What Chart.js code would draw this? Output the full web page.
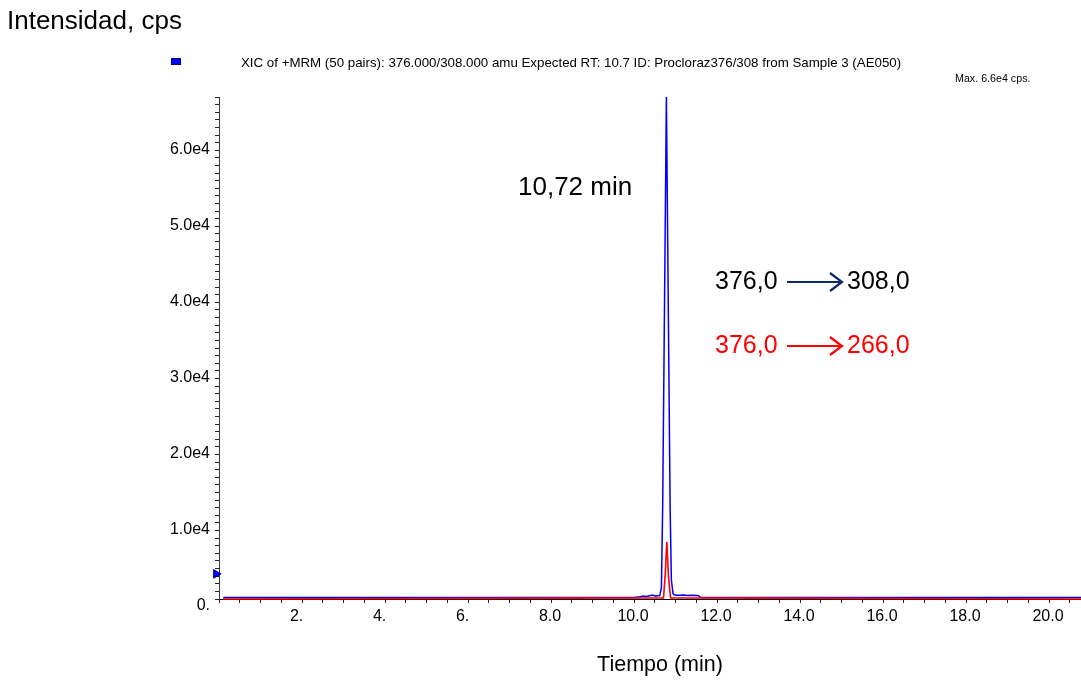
<!DOCTYPE html>
<html>
<head>
<meta charset="utf-8">
<script src="https://cdn.jsdelivr.net/npm/chart.js@4/dist/chart.umd.min.js"></script>
<style>
  html, body { margin: 0; padding: 0; background: #fff; }
  #wrap { width: 1081px; height: 680px; position: relative; }
</style>
</head>
<body>
<div id="wrap"><canvas id="xic"></canvas></div>
<script>
const FontFamily = "'Liberation Sans', Arial, sans-serif";

// 376.0 -> 308.0 transition (blue)
const blueTime = [0.1, 10.0, 10.15, 10.22, 10.3, 10.38, 10.45, 10.52, 10.58, 10.62, 10.66, 10.69, 10.78, 10.87, 10.90, 10.94, 10.97, 11.02, 11.1, 11.2, 11.3, 11.4, 11.5, 11.56, 11.6, 20.77];
const blueCps = [200, 200, 300, 400, 320, 430, 520, 380, 420, 450, 1500, 12000, 66000, 12000, 2500, 700, 550, 500, 480, 520, 450, 500, 450, 420, 200, 200];

// 376.0 -> 266.0 transition (red)
const redTime = [0.1, 10.71, 10.75, 10.79, 10.83, 10.88, 20.77];
const redCps = [0, 150, 3000, 7500, 3000, 150, 0];

// marker on the intensity axis
const markerTime = [-0.07];
const markerCps = [3300];

const xTickValues = [2, 4, 6, 8, 10, 12, 14, 16, 18, 20];
const xTickLabels = ['2.  ', '4.  ', '6.  ', '8.0', '10.0', '12.0', '14.0', '16.0', '18.0', '20.0'];
const yTickValues = [0, 10000, 20000, 30000, 40000, 50000, 60000];
const yTickLabels = ['0.', '1.0e4', '2.0e4', '3.0e4', '4.0e4', '5.0e4', '6.0e4'];

const toPoints = (xs, ys) => xs.map((x, i) => ({ x: x, y: ys[i] }));

/**
 * Texts around the plot (title, legend box, annotations)
 */
const decorations = {
	id: 'decorations',
	afterDraw(chart) {
		const ctx = chart.ctx;
		ctx.save();
		ctx.textBaseline = 'middle';

		ctx.fillStyle = '#000';
		ctx.textAlign = 'left';
		ctx.font = `26px ${FontFamily}`;
		ctx.fillText('Intensidad, cps', 7, 22);

		ctx.fillStyle = '#0000ff';
		ctx.fillRect(171, 58, 10, 7);
		ctx.strokeStyle = '#000080';
		ctx.lineWidth = 1;
		ctx.strokeRect(171.5, 58.5, 9, 6);

		ctx.fillStyle = '#000';
		ctx.font = `13.3px ${FontFamily}`;
		ctx.fillText('XIC of +MRM (50 pairs): 376.000/308.000 amu Expected RT: 10.7 ID: Procloraz376/308 from Sample 3 (AE050)', 241, 63);

		ctx.font = `10.7px ${FontFamily}`;
		ctx.fillText('Max. 6.6e4 cps.', 955, 79);

		ctx.font = `26px ${FontFamily}`;
		ctx.fillText('10,72 min', 518, 188);

		const drawArrowRow = (y, textColor, arrowColor, from, to) => {
			ctx.fillStyle = textColor;
			ctx.fillText(from, 715, y);
			ctx.fillText(to, 847, y);
			ctx.strokeStyle = arrowColor;
			ctx.lineWidth = 2.2;
			ctx.beginPath();
			ctx.moveTo(787, y);
			ctx.lineTo(841, y);
			ctx.moveTo(830, y - 9);
			ctx.lineTo(842, y);
			ctx.lineTo(830, y + 9);
			ctx.stroke();
		};
		ctx.font = `25px ${FontFamily}`;
		drawArrowRow(282, '#000', '#0c2a6a', '376,0', '308,0');
		drawArrowRow(346, '#ff0000', '#ff0000', '376,0', '266,0');

		ctx.fillStyle = '#000';
		ctx.textAlign = 'center';
		ctx.font = `21.5px ${FontFamily}`;
		ctx.fillText('Tiempo (min)', 660, 665);
		ctx.restore();
	}
};

new Chart(document.getElementById('xic').getContext('2d'), {
	type: 'scatter',
	data: {
		datasets: [
			{ data: toPoints(redTime, redCps), showLine: true, borderColor: '#ff0000', borderWidth: 1.6, pointRadius: 0, tension: 0, clip: 4 },
			{ data: toPoints(blueTime, blueCps), showLine: true, borderColor: '#0000ff', borderWidth: 1.5, pointRadius: 0, tension: 0, clip: 4 },
			{ data: toPoints(markerTime, markerCps), showLine: false, pointStyle: 'triangle', rotation: 90, pointRadius: 5, backgroundColor: '#0000ff', borderColor: '#000099', borderWidth: 1, clip: false }
		]
	},
	options: {
		responsive: true,
		maintainAspectRatio: false,
		animation: false,
		events: [],
		layout: { autoPadding: false, padding: { top: 97, left: 0, right: 0, bottom: 0 } },
		plugins: { legend: { display: false }, tooltip: { enabled: false } },
		scales: {
			x: {
				type: 'linear',
				min: 0,
				max: 20.77,
				afterFit: (scale) => { scale.height = 81; },
				border: { display: true, color: '#000', width: 1 },
				grid: { drawOnChartArea: false, drawTicks: true, tickLength: 4, tickColor: '#222' },
				ticks: {
					stepSize: 0.5,
					includeBounds: false,
					autoSkip: false,
					maxRotation: 0,
					maxTicksLimit: 100,
					padding: 4,
					labelOffset: -1,
					color: '#000',
					font: { family: FontFamily, size: 16 },
					callback: (value) => {
						const i = xTickValues.indexOf(value);
						return i >= 0 ? xTickLabels[i] : '';
					}
				}
			},
			y: {
				min: 0,
				max: 66000,
				afterFit: (scale) => { scale.width = 219; },
				border: { display: true, color: '#333', width: 1 },
				grid: { drawOnChartArea: false, drawTicks: true, tickLength: 4, tickColor: '#222' },
				ticks: {
					stepSize: 1000,
					autoSkip: false,
					maxTicksLimit: 200,
					padding: 5,
					labelOffset: 7,
					color: '#000',
					font: { family: FontFamily, size: 16 },
					callback: (value) => {
						const i = yTickValues.indexOf(value);
						return i >= 0 ? yTickLabels[i] : '';
					}
				}
			}
		}
	},
	plugins: [decorations]
});
</script>
</body>
</html>
